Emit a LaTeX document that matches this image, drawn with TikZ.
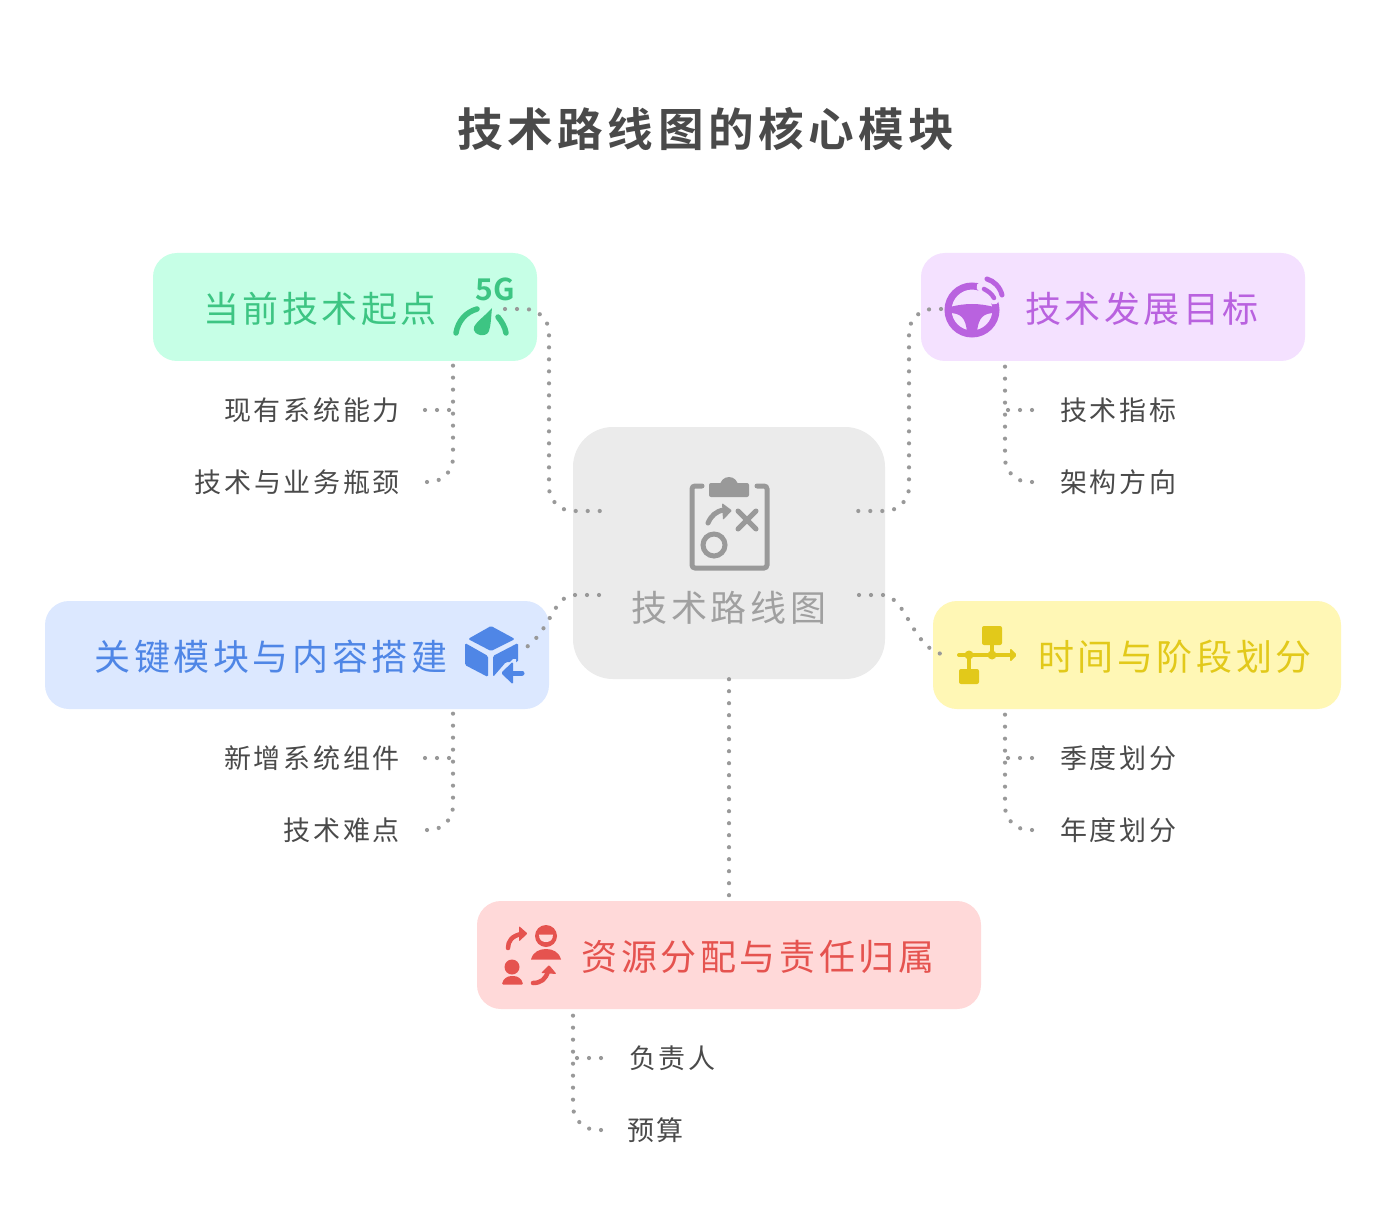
\documentclass[tikz,border=0pt]{standalone}
\usepackage{fontspec}
\setmainfont{Noto Sans CJK SC}[LetterSpace=10]
\newfontfamily\plainbold{Noto Sans CJK SC Bold}
\definecolor{ink}{HTML}{4A4A4A}
\definecolor{dotc}{HTML}{999999}
\definecolor{gF}{HTML}{C6FFE6}\definecolor{gT}{HTML}{3DC583}
\definecolor{pF}{HTML}{F4E1FF}\definecolor{pT}{HTML}{B962DF}
\definecolor{cF}{HTML}{EBEBEB}\definecolor{cT}{HTML}{A0A0A0}\definecolor{cI}{HTML}{999999}
\definecolor{bF}{HTML}{DCE8FF}\definecolor{bT}{HTML}{4F86E6}
\definecolor{yF}{HTML}{FFF7B5}\definecolor{yT}{HTML}{E2C91A}
\definecolor{rF}{HTML}{FFD9D9}\definecolor{rT}{HTML}{E5534F}
\tikzset{
  card/.style={inner sep=0pt,rounded corners=24pt,minimum height=108pt},
  cardtext/.style={inner sep=0pt,font=\fontsize{36}{40}\selectfont},
  leaf/.style={inner sep=0pt,text=ink,font=\fontsize{27}{30}\selectfont},
  dotline/.style={draw=dotc,line width=4.2pt,line cap=round,dash pattern=on 0pt off 12pt,rounded corners=24pt},
  branch/.style={draw=dotc,line width=4.2pt,line cap=round,dash pattern=on 0pt off 12pt},
}
\begin{document}
\begin{tikzpicture}[x=1pt,y=-1pt]
\useasboundingbox (0,0) rectangle (1374,1206);
\fill[white] (0,0) rectangle (1374,1206);
% cards
\node[card,fill=gF,minimum width=384pt] (start) at (345,307) {};
\node[card,fill=pF,minimum width=384pt] (goal) at (1113,307) {};
\node[card,fill=cF,minimum width=312pt,minimum height=252pt,rounded corners=40pt] (core) at (729,553) {};
\node[card,fill=bF,minimum width=504pt] (mod) at (297,655) {};
\node[card,fill=yF,minimum width=408pt] (time) at (1137,655) {};
\node[card,fill=rF,minimum width=504pt] (res) at (729,955) {};
% texts
\node[inner sep=0pt,text=ink,font=\plainbold\fontsize{45.6}{50}\selectfont\addfontfeature{LetterSpace=10}] (title) at (706,129) {技术路线图的核心模块};
\node[cardtext,text=gT] (tstart) at (320,309) {当前技术起点};
\node[cardtext,text=pT] (tgoal) at (1142,309) {技术发展目标};
\node[cardtext,text=cT] (tcore) at (729,608) {技术路线图};
\node[cardtext,text=bT] (tmod) at (271,657) {关键模块与内容搭建};
\node[cardtext,text=yT] (ttime) at (1175,657) {时间与阶段划分};
\node[cardtext,text=rT] (tres) at (758,957) {资源分配与责任归属};
\node[leaf,anchor=east] (a1) at (400,410) {现有系统能力};
\node[leaf,anchor=east] (a2) at (400,482) {技术与业务瓶颈};
\node[leaf,anchor=west] (b1) at (1060,410) {技术指标};
\node[leaf,anchor=west] (b2) at (1060,482) {架构方向};
\node[leaf,anchor=east] (c1) at (400,758) {新增系统组件};
\node[leaf,anchor=east] (c2) at (400,830) {技术难点};
\node[leaf,anchor=west] (d1) at (1060,758) {季度划分};
\node[leaf,anchor=west] (d2) at (1060,830) {年度划分};
\node[leaf,anchor=west] (e1) at (629,1058) {负责人};
\node[leaf,anchor=west] (e2) at (627,1130) {预算};
% connector ports
\coordinate (pS) at (505,309); \coordinate (pG) at (941,309);
\coordinate (pM) at (521,651); \coordinate (pT) at (947,655);
\coordinate (cNW) at (601,511); \coordinate (cNE) at (855,511);
\coordinate (cSW) at (599,595); \coordinate (cSE) at (859,595);
\coordinate (spL) at (549,400); \coordinate (spR) at (909,400);
\coordinate (s0) at (453,361); \coordinate (g0) at (1005,361);
\coordinate (m0) at (453,709); \coordinate (t0) at (1005,709);
\coordinate (r0) at (573,1009);
% connectors
\draw[dotline] (pS) -| (spL) |- (cNW);
\draw[dotline] (pG) -| (spR) |- (cNE);
\draw[branch] (cSW) -- ++(-24,0) .. controls (552,595) and (552,632) .. (pM);
\draw[branch] (cSE) -- ++(24,0) .. controls (908,597) and (912,652) .. (pT);
\draw[branch] (core.south) -- (core.south |- res.north);
\draw[dotline] ([xshift=27pt]a2.east) -| (s0);
\draw[branch] ([xshift=25pt]a1.east) -- (a1.east -| s0);
\draw[dotline] ([xshift=-28pt]b2.west) -| (g0);
\draw[branch] ([xshift=-28pt]b1.west) -- (b1.west -| g0);
\draw[dotline] ([xshift=27pt]c2.east) -| (m0);
\draw[branch] ([xshift=25pt]c1.east) -- (c1.east -| m0);
\draw[dotline] ([xshift=-28pt]d2.west) -| (t0);
\draw[branch] ([xshift=-28pt]d1.west) -- (d1.west -| t0);
\draw[dotline] ([xshift=-26pt]e2.west) -| (r0);
\draw[branch] ([xshift=-28pt]e1.west) -- (e1.west -| r0);
% 5G gauge icon
\node[inner sep=0pt,text=gT,font=\plainbold\fontsize{30}{30}\selectfont\addfontfeature{LetterSpace=0}] (fiveg) at (495,289) {5G};
\draw[gT,line width=5.5pt,line cap=round] (456,333) .. controls (458,321) and (466,312) .. (477,309);
\draw[gT,line width=5.5pt,line cap=round] (498,317) .. controls (502,322) and (505,327) .. (506,333);
\fill[gT] (492,308) .. controls (487,314) and (476,322) .. (474,327) .. controls (472,336) and (487,338) .. (489,331) .. controls (491,325) and (491,317) .. (492,308) -- cycle;
% steering wheel icon
\draw[pT,line width=7pt] (972,310) circle (24);
\fill[pT] (950,307) .. controls (965,303) and (979,303) .. (994,307) -- (995,313) .. controls (984,313) and (978,317) .. (977,333) -- (967,333) .. controls (966,317) and (960,313) .. (949,313) -- cycle;
\draw[pF,line width=11pt,line cap=round] (982,287) .. controls (987,289) and (991,293) .. (994,299);
\draw[pT,line width=4.5pt,line cap=round] (984,289) .. controls (988,291) and (992,294) .. (994,298);
\draw[pT,line width=5pt,line cap=round] (987,279) .. controls (994,281) and (1000,287) .. (1002,295);
% clipboard icon
\draw[cI,line width=5pt,line cap=round,rounded corners=3pt] (702,486) -- (692,486) -- (692,568) -- (767,568) -- (767,486) -- (757,486);
\fill[cI,rounded corners=2pt] (709,483) rectangle (749,497);
\fill[cI] (720,486) arc[start angle=180,end angle=0,radius=9,y radius=-9] -- cycle;
\draw[cI,line width=5pt,line cap=round] (708,523) .. controls (711,516) and (716,511) .. (724,510);
\fill[cI,rounded corners=1pt] (722,503) -- (732,510.5) -- (723,520) -- cycle;
\draw[cI,line width=5pt,line cap=round] (738,511) -- (756,529) (756,511) -- (738,529);
\draw[cI,line width=5pt] (714,545) circle (11);
% cube icon
\fill[bT,rounded corners=1.5pt] (491,626) -- (515,639) -- (491,651) -- (468,639) -- cycle;
\fill[bT,rounded corners=1.5pt] (465,643) -- (488,656) -- (488,677) -- (465,665) -- cycle;
\fill[bT,rounded corners=1.5pt] (493,656) -- (518,643) -- (518,662) -- (506,662) -- (493,677) -- cycle;
\draw[bF,line width=9pt,line cap=round] (505,673) -- (522,673);
\fill[bF] (500,673) -- (513,659) -- (516,659) -- (516,687) -- (513,687) -- cycle;
\fill[bT,rounded corners=1.5pt] (501,673) -- (513,661.5) -- (513,684.5) -- cycle;
\draw[bT,line width=5pt,line cap=round] (510,673) -- (522,673);
% timeline icon
\fill[yT,rounded corners=2pt] (982,626) rectangle (1002,645);
\fill[yT,rounded corners=2pt] (959,669) rectangle (979,684);
\draw[yT,line width=4pt,line cap=round] (959,655) -- (1012,655);
\draw[yT,line width=4pt] (992,645) -- (992,655) (969,655) -- (969,669);
\fill[yT] (969,655) circle (4.5) (992,655) circle (4.5);
\fill[yT,rounded corners=1.5pt] (1010,648) -- (1017,655) -- (1010,662) -- cycle;
% resource icon
\draw[rT,line width=4.5pt,line cap=round] (508,948) .. controls (508,941) and (512,936) .. (521,934);
\fill[rT,rounded corners=1pt] (519,926) -- (527.5,933.5) -- (519,941.5) -- cycle;
\fill[rT] (546,936) circle (11);
\fill[rF] (539,934.5) -- (553,934.5) .. controls (553,940) and (550,942) .. (546,942) .. controls (542,942) and (539,940) .. (539,934.5) -- cycle;
\fill[rT] (531,959.5) .. controls (533,952) and (539,949) .. (546,949) .. controls (553,949) and (559,952) .. (561,959.5) -- cycle;
\fill[rT] (512,967) circle (7.5);
\fill[rT,rounded corners=1pt] (502,984.5) .. controls (503,979) and (507,976) .. (512.5,976) .. controls (518,976) and (522,979) .. (523,984.5) -- cycle;
\draw[rT,line width=4.5pt,line cap=round] (533,983) .. controls (541,983) and (546,979) .. (548,971);
\fill[rT,rounded corners=1pt] (549,965) -- (556.5,974) -- (541,973) -- cycle;
\end{tikzpicture}
\end{document}
